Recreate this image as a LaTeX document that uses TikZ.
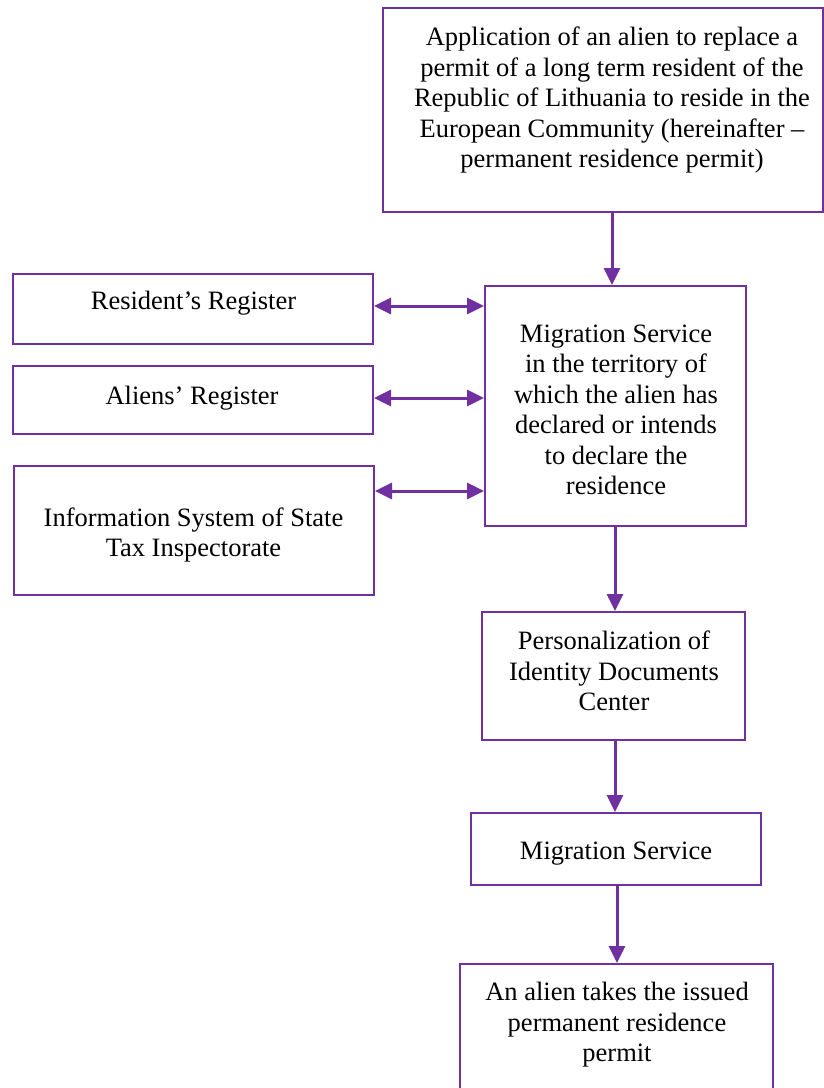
\documentclass[tikz,border=0pt]{standalone}
\usepackage{fontspec}
\setmainfont{Liberation Serif}
\usetikzlibrary{arrows.meta}
\definecolor{pur}{HTML}{7030A0}
\tikzset{
  box/.style={draw=pur, line width=2pt, rectangle, inner sep=0pt},
  txt/.style={align=center, inner sep=0pt, font=\fontsize{26.5}{30.5}\selectfont},
  arr/.style={draw=pur, line width=3pt, -{Triangle[length=17pt,width=16pt]}},
  darr/.style={draw=pur, line width=3pt, {Triangle[length=17pt,width=16pt]}-{Triangle[length=17pt,width=16pt]}}
}
\begin{document}
\begin{tikzpicture}[x=1pt,y=1pt]
\useasboundingbox (0,0) rectangle (824,-1088);
% boxes
\node[box, minimum width=440pt, minimum height=204pt] (t) at (603,-110) {};
\node[box, minimum width=360pt, minimum height=70pt] (r) at (193,-309) {};
\node[box, minimum width=360pt, minimum height=68pt] (al) at (193,-400) {};
\node[box, minimum width=360pt, minimum height=129pt] (i) at (194,-530.5) {};
\node[box, minimum width=261pt, minimum height=240pt] (m) at (615.5,-406) {};
\node[box, minimum width=263pt, minimum height=128pt] (p) at (613.5,-676) {};
\node[box, minimum width=290pt, minimum height=72pt] (ms) at (616,-849) {};
\node[box, minimum width=313pt, minimum height=136pt] (a) at (616.5,-1032) {};
% texts
\node[txt] (tt) at (612,-100) {Application of an alien to replace a\\permit of a long term resident of the\\Republic of Lithuania to reside in the\\European Community (hereinafter –\\permanent residence permit)};
\node[txt] (rt) at (193.5,-303) {Resident’s Register};
\node[txt] (alt) at (192,-398) {Aliens’ Register};
\node[txt] (it) at (193.5,-535) {Information System of State\\Tax Inspectorate};
\node[txt] (mt) at (616,-410) {Migration Service\\in the territory of\\which the alien has\\declared or intends\\to declare the\\residence};
\node[txt] (pt) at (614,-671) {Personalization of\\Identity Documents\\Center};
\node[txt] (mst) at (616,-854) {Migration Service};
\node[txt] (at) at (617,-1025) {An alien takes the issued\\permanent residence\\permit};
% connectors
\draw[arr] (t.south -| 612,0) -- (m.north -| 612,0);
\draw[darr] (r.east |- 0,-306) -- (m.west |- 0,-306);
\draw[darr] (al.east |- 0,-398) -- (m.west |- 0,-398);
\draw[darr] (i.east |- 0,-491) -- (m.west |- 0,-491);
\draw[arr] (m.south -| 615,0) -- (p.north -| 615,0);
\draw[arr] (p.south -| 615,0) -- (ms.north -| 615,0);
\draw[arr] (ms.south -| 617,0) -- (a.north -| 617,0);
\end{tikzpicture}
\end{document}
